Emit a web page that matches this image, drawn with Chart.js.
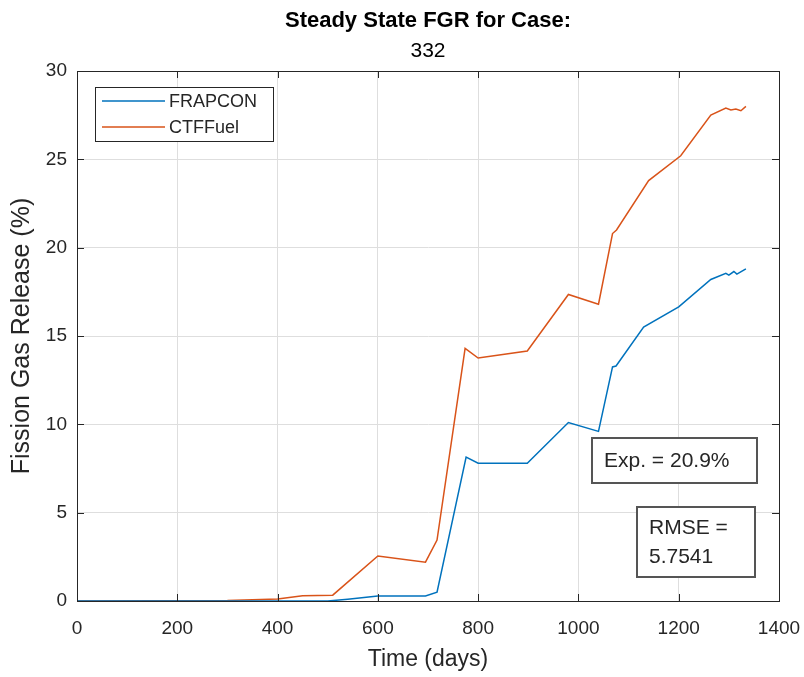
<!DOCTYPE html>
<html><head><meta charset="utf-8">
<script src="https://cdn.jsdelivr.net/npm/chart.js@4"></script>
<style>html,body{margin:0;padding:0;background:#fff}#wrap{width:804px;height:677px;position:relative}</style>
</head><body><div id="wrap"><canvas id="c" width="804" height="677"></canvas></div>
<script>
const titleLines = ['Steady State FGR for Case:', '332'];
const seriesNames = ['FRAPCON', 'CTFFuel'];
const seriesColors = ['#0072BD', '#D95319'];
const frapconDays = [0, 500, 540, 600, 695, 718, 776, 800, 898, 980, 1040, 1068, 1075, 1130, 1200, 1264, 1294, 1300, 1310, 1316, 1334];
const frapconFGR  = [0, 0, 0.1, 0.28, 0.28, 0.5, 8.15, 7.8, 7.8, 10.1, 9.6, 13.25, 13.3, 15.5, 16.65, 18.2, 18.55, 18.45, 18.65, 18.5, 18.8];
const ctfDays = [0, 300, 400, 450, 510, 600, 695, 718, 774, 800, 898, 980, 1040, 1068, 1076, 1140, 1204, 1264, 1294, 1304, 1314, 1324, 1334];
const ctfFGR  = [0, 0.03, 0.12, 0.3, 0.33, 2.55, 2.2, 3.45, 14.3, 13.75, 14.15, 17.35, 16.8, 20.8, 21.0, 23.8, 25.2, 27.5, 27.9, 27.8, 27.85, 27.75, 28.0];
const xTickValues = [0, 200, 400, 600, 800, 1000, 1200, 1400];
const yTickValues = [0, 5, 10, 15, 20, 25, 30];
const xLabel = 'Time (days)';
const yLabel = 'Fission Gas Release (%)';
const expText = ['Exp. = 20.9%'];
const rmseText = ['RMSE =', '5.7541'];

const FONT = '"Liberation Sans", Arial, Helvetica, sans-serif';
const TXT = '#262626';

function pts(xs, ys) { return xs.map((x, i) => ({ x: x, y: ys[i] })); }

const framePlugin = {
  id: 'matlabFrame',
  afterDraw(chart) {
    const ctx = chart.ctx;
    const a = chart.chartArea;
    const xs = chart.scales.x, ys = chart.scales.y;
    ctx.save();
    // box
    ctx.strokeStyle = TXT; ctx.lineWidth = 1;
    ctx.strokeRect(Math.round(a.left) + 0.5, Math.round(a.top) + 0.5, Math.round(a.right - a.left), Math.round(a.bottom - a.top));
    // inward ticks
    ctx.beginPath();
    xTickValues.forEach(v => {
      const px = Math.round(xs.getPixelForValue(v)) + 0.5;
      ctx.moveTo(px, a.bottom); ctx.lineTo(px, a.bottom - 7);
      ctx.moveTo(px, a.top); ctx.lineTo(px, a.top + 7);
    });
    yTickValues.forEach(v => {
      const py = Math.round(ys.getPixelForValue(v)) + 0.5;
      ctx.moveTo(a.left, py); ctx.lineTo(a.left + 7, py);
      ctx.moveTo(a.right, py); ctx.lineTo(a.right - 7, py);
    });
    ctx.stroke();

    // title
    ctx.fillStyle = '#000';
    ctx.textAlign = 'center'; ctx.textBaseline = 'middle';
    const cx = (a.left + a.right) / 2;
    ctx.font = 'bold 22px ' + FONT;
    ctx.fillText(titleLines[0], cx, 21);
    ctx.font = '21px ' + FONT;
    ctx.fillText(titleLines[1], cx, 51);

    // legend
    const lx = a.left + 18, ly = a.top + 16, lw = 178, lh = 54;
    ctx.fillStyle = '#fff';
    ctx.fillRect(lx, ly, lw, lh);
    ctx.strokeStyle = TXT; ctx.lineWidth = 1;
    ctx.strokeRect(lx + 0.5, ly + 0.5, lw, lh);
    ctx.font = '18px ' + FONT;
    ctx.textAlign = 'left';
    chart.data.datasets.forEach((ds, i) => {
      const yy = ly + 14 + i * 26;
      ctx.strokeStyle = ds.borderColor; ctx.lineWidth = 1.5;
      ctx.beginPath(); ctx.moveTo(lx + 7, yy); ctx.lineTo(lx + 70, yy); ctx.stroke();
      ctx.fillStyle = TXT;
      ctx.fillText(ds.label, lx + 74, yy + 1);
    });

    // annotation boxes
    function tbox(lines, x, y, w, h, tx, ty, step) {
      ctx.fillStyle = '#fff'; ctx.fillRect(x, y, w, h);
      ctx.strokeStyle = '#555'; ctx.lineWidth = 2;
      ctx.strokeRect(x, y, w, h);
      ctx.fillStyle = TXT; ctx.font = '21px ' + FONT; ctx.textAlign = 'left';
      lines.forEach((t, i) => ctx.fillText(t, tx, ty + i * step));
    }
    tbox(expText, a.right - 187, 438, 165, 45, a.right - 175, 461, 0);
    tbox(rmseText, a.right - 142, 507, 118, 70, a.right - 130, 528, 29);
    ctx.restore();
  }
};

new Chart(document.getElementById('c'), {
  type: 'line',
  data: {
    datasets: [
      { label: seriesNames[0], data: pts(frapconDays, frapconFGR), borderColor: seriesColors[0], backgroundColor: seriesColors[0], borderWidth: 1.5, pointRadius: 0, tension: 0, fill: false },
      { label: seriesNames[1], data: pts(ctfDays, ctfFGR), borderColor: seriesColors[1], backgroundColor: seriesColors[1], borderWidth: 1.5, pointRadius: 0, tension: 0, fill: false }
    ]
  },
  options: {
    responsive: false,
    animation: false,
    events: [],
    layout: { padding: { left: 0, right: 25, top: 71, bottom: 0 } },
    plugins: { legend: { display: false }, title: { display: false }, tooltip: { enabled: false } },
    scales: {
      x: {
        type: 'linear', min: 0, max: 1400,
        afterBuildTicks: s => { s.ticks = xTickValues.map(v => ({ value: v })); },
        afterFit: s => { s.height = 76; s.paddingLeft = 0; s.paddingRight = 0; },
        grid: { color: '#dedede', lineWidth: 1, drawTicks: false },
        border: { display: true, color: TXT, width: 1 },
        ticks: { color: TXT, font: { family: FONT, size: 19 }, padding: 16, maxRotation: 0, callback: v => String(v) },
        title: { display: true, text: xLabel, color: TXT, font: { family: FONT, size: 23 }, padding: { top: 4, bottom: 4 } }
      },
      y: {
        type: 'linear', min: 0, max: 30,
        afterBuildTicks: s => { s.ticks = yTickValues.map(v => ({ value: v })); },
        afterFit: s => { s.width = 77; s.paddingTop = 0; s.paddingBottom = 0; },
        grid: { color: '#dedede', lineWidth: 1, drawTicks: false },
        border: { display: true, color: TXT, width: 1 },
        ticks: { color: TXT, font: { family: FONT, size: 19 }, padding: 10, callback: v => String(v) },
        title: { display: true, text: yLabel, color: TXT, font: { family: FONT, size: 25 }, padding: { top: 7, bottom: 4 } }
      }
    }
  },
  plugins: [framePlugin]
});
</script></body></html>
